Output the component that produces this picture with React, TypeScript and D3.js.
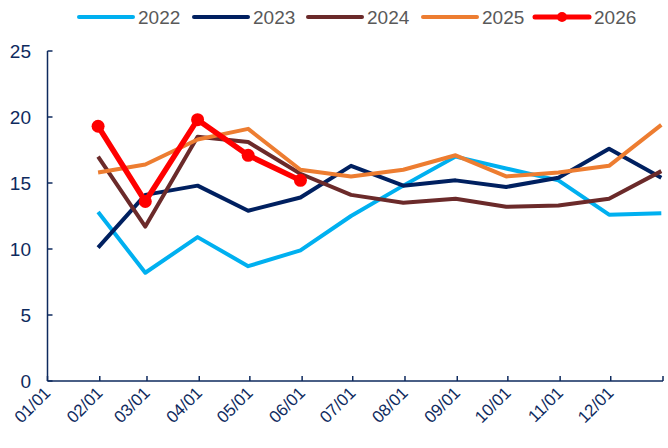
import React from 'react';
import * as d3 from 'd3';

const years = ['2022', '2023', '2024', '2025', '2026'];
const colors = ['#00b0f0', '#002060', '#6b2a2a', '#ed7d31', '#ff0000'];

// month-end observation dates, plotted on a single-year axis
const monthEnds = [
  '2025-01-31', '2025-02-28', '2025-03-31', '2025-04-30', '2025-05-31', '2025-06-30',
  '2025-07-31', '2025-08-31', '2025-09-30', '2025-10-31', '2025-11-30', '2025-12-31',
];

const tickDates = [
  '2025-01-01', '2025-02-01', '2025-03-01', '2025-04-01', '2025-05-01', '2025-06-01',
  '2025-07-01', '2025-08-01', '2025-09-01', '2025-10-01', '2025-11-01', '2025-12-01',
  '2026-01-01',
];
const tickLabels = ['01/01', '02/01', '03/01', '04/01', '05/01', '06/01', '07/01', '08/01', '09/01', '10/01', '11/01', '12/01', ''];

const s2022 = [12.8, 8.2, 10.9, 8.7, 9.9, 12.5, 14.8, 17.0, 16.1, 15.2, 12.6, 12.7];
const s2023 = [10.1, 14.1, 14.8, 12.9, 13.9, 16.3, 14.8, 15.2, 14.7, 15.4, 17.6, 15.4];
const s2024 = [17.0, 11.7, 18.5, 18.1, 15.7, 14.1, 13.5, 13.8, 13.2, 13.3, 13.8, 15.9];
const s2025 = [15.8, 16.4, 18.3, 19.1, 16.0, 15.5, 16.0, 17.1, 15.5, 15.8, 16.3, 19.4];
const s2026 = [19.3, 13.6, 19.8, 17.1, 15.2];

const seriesValues = [s2022, s2023, s2024, s2025, s2026];
const yTicks = [0, 5, 10, 15, 20, 25];

const App: React.FC = () => {
  const width = 668;
  const height = 448;
  const plot = { left: 47.5, right: 663, top: 51, bottom: 381 };
  const axisColor = '#0e2a5e';
  const font = '"Liberation Sans", Arial, sans-serif';

  const x = d3.scaleUtc()
    .domain([new Date('2025-01-01T00:00:00Z'), new Date('2026-01-01T00:00:00Z')])
    .range([plot.left, plot.right]);
  const y = d3.scaleLinear().domain([0, 25]).range([plot.bottom, plot.top]);

  const line = d3.line<[Date, number]>()
    .x(d => x(d[0]))
    .y(d => y(d[1]));

  const toPoints = (vals: number[]): [Date, number][] =>
    vals.map((v, i) => [new Date(monthEnds[i] + 'T00:00:00Z'), v]);

  const legendX = [79, 194, 308, 423, 535];

  return (
    <div style={{ position: 'absolute', left: 0, top: 0 }}>
      <svg width={width} height={height} style={{ display: 'block', background: '#fff' }}>
        {/* Legend */}
        {years.map((yr, i) => (
          <g key={yr} transform={`translate(${legendX[i]},17)`}>
            <line x1={0} x2={54} y1={0} y2={0} stroke={colors[i]} strokeWidth={i === 4 ? 5 : 4} strokeLinecap="round" />
            {i === 4 && <circle cx={27} cy={0} r={5} fill={colors[i]} />}
            <text x={59} y={7} fontSize={19} fill="#595959" fontFamily={font}>{yr}</text>
          </g>
        ))}

        {/* Axes */}
        <line x1={plot.left} x2={plot.left} y1={plot.top} y2={plot.bottom} stroke={axisColor} strokeWidth={1.5} />
        <line x1={plot.left} x2={plot.right} y1={plot.bottom} y2={plot.bottom} stroke={axisColor} strokeWidth={1.5} />
        {yTicks.map(t => (
          <g key={t}>
            <line x1={plot.left} x2={plot.left + 5} y1={y(t)} y2={y(t)} stroke={axisColor} strokeWidth={1.5} />
            <text x={31} y={y(t) + 6.5} textAnchor="end" fontSize={19} fill={axisColor} fontFamily={font}>{t}</text>
          </g>
        ))}
        {tickDates.map((d, i) => {
          const tx = x(new Date(d + 'T00:00:00Z'));
          return (
            <g key={d}>
              <line x1={tx} x2={tx} y1={plot.bottom} y2={plot.bottom - 5} stroke={axisColor} strokeWidth={1.5} />
              {tickLabels[i] && (
                <text
                  transform={`translate(${tx + 4},${plot.bottom + 13}) rotate(-45)`}
                  textAnchor="end"
                  fontSize={17}
                  fill={axisColor}
                  fontFamily={font}
                >
                  {tickLabels[i]}
                </text>
              )}
            </g>
          );
        })}

        {/* Series */}
        {seriesValues.map((vals, i) => (
          <path
            key={years[i]}
            d={line(toPoints(vals)) || undefined}
            fill="none"
            stroke={colors[i]}
            strokeWidth={i === 4 ? 5.5 : 4}
            strokeLinejoin="round"
          />
        ))}
        {toPoints(s2026).map((p, i) => (
          <circle key={i} cx={x(p[0])} cy={y(p[1])} r={6.5} fill={colors[4]} />
        ))}
      </svg>
    </div>
  );
};

export default App;
